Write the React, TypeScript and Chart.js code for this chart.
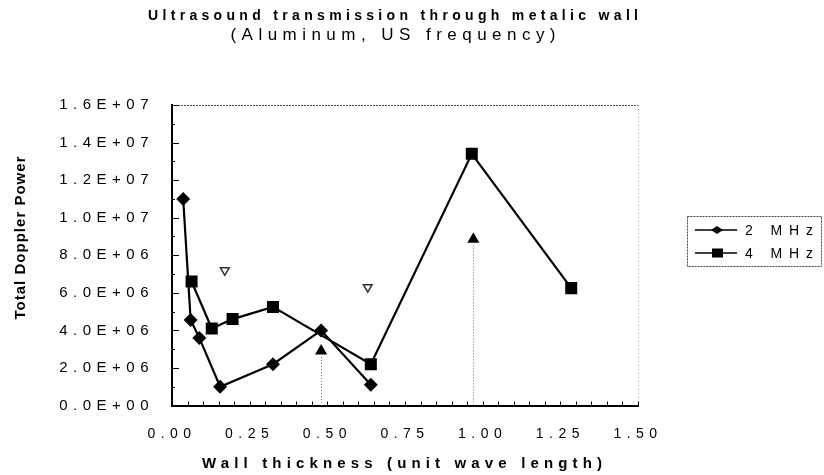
import React, { useEffect, useRef } from 'react';
import { Chart, registerables } from 'chart.js';

Chart.register(...registerables);

const titleLines = ['Ultrasound transmission through metalic wall', '(Aluminum, US frequency)'];
const xAxisTitle = 'Wall thickness (unit wave length)';
const yAxisTitle = 'Total Doppler Power';
const seriesLabels = ['2 MHz', '4 MHz'];

const thickness2MHz = [0.036, 0.06, 0.088, 0.155, 0.325, 0.48, 0.64];
const power2MHz = [1.1e7, 4.55e6, 3.6e6, 1.0e6, 2.2e6, 4.0e6, 1.1e6];
const thickness4MHz = [0.063, 0.128, 0.195, 0.325, 0.64, 0.965, 1.285];
const power4MHz = [6.6e6, 4.1e6, 4.6e6, 5.25e6, 2.2e6, 1.34e7, 6.25e6];
const arrowThickness = [0.48, 0.97];
const arrowPower = [2.9e6, 8.85e6];
const openMarkThickness = [0.17, 0.63];
const openMarkPower = [7.2e6, 6.3e6];

const xMin = 0;
const xMax = 1.5;
const xStep = 0.25;
const xMinorStep = 0.05;
const yMin = 0;
const yMax = 1.6e7;
const yStep = 2e6;
const yMinorStep = 1e6;

const FONT = '"Liberation Sans", Arial, sans-serif';

function fmtExp(v: number): string {
  const [m, e] = v.toExponential(1).split('e');
  const n = parseInt(e, 10);
  return m + 'E' + (n < 0 ? '-' : '+') + String(Math.abs(n)).padStart(2, '0');
}

function drawFit(ctx: CanvasRenderingContext2D, text: string, x: number, baseline: number, width: number, font: string, align: 'center' | 'left' = 'center') {
  ctx.font = font;
  (ctx as any).letterSpacing = '0px';
  const nat = ctx.measureText(text).width;
  const ls = text.length > 1 ? (width - nat) / (text.length - 1) : 0;
  (ctx as any).letterSpacing = ls + 'px';
  ctx.textAlign = 'left';
  ctx.textBaseline = 'alphabetic';
  const left = align === 'center' ? x - width / 2 : x;
  ctx.fillText(text, left, baseline);
  (ctx as any).letterSpacing = '0px';
}

const decorPlugin = {
  id: 'decor',
  beforeDraw(chart: any) {
    (chart.ctx as any).letterSpacing = '5.5px';
  },
  beforeDatasetsDraw(chart: any) {
    const { ctx, chartArea: a, scales } = chart;
    const x = scales.x;
    const y = scales.y;
    ctx.save();
    (ctx as any).letterSpacing = '0px';
    // top border
    ctx.strokeStyle = '#555';
    ctx.lineWidth = 1;
    ctx.setLineDash([2, 1]);
    ctx.beginPath();
    ctx.moveTo(a.left, Math.round(a.top) + 0.5);
    ctx.lineTo(a.right, Math.round(a.top) + 0.5);
    ctx.stroke();
    // right border
    ctx.strokeStyle = '#aaa';
    ctx.setLineDash([1, 3]);
    ctx.beginPath();
    ctx.moveTo(Math.round(a.right) + 0.5, a.top);
    ctx.lineTo(Math.round(a.right) + 0.5, a.bottom);
    ctx.stroke();
    // dotted drop lines
    ctx.strokeStyle = '#777';
    ctx.setLineDash([1, 2]);
    arrowThickness.forEach((t, i) => {
      const px = Math.round(x.getPixelForValue(t)) + 0.5;
      const py = y.getPixelForValue(arrowPower[i]) + 6;
      ctx.beginPath();
      ctx.moveTo(px, py);
      ctx.lineTo(px, a.bottom);
      ctx.stroke();
    });
    // inward tick marks
    ctx.setLineDash([]);
    ctx.strokeStyle = '#000';
    ctx.lineWidth = 1;
    for (let i = 0; xMin + i * xMinorStep <= xMax + 1e-9; i++) {
      const px = Math.round(x.getPixelForValue(xMin + i * xMinorStep)) + 0.5;
      ctx.beginPath();
      ctx.moveTo(px, a.bottom);
      ctx.lineTo(px, a.bottom - 4);
      ctx.stroke();
    }
    for (let i = 0; yMin + i * yMinorStep <= yMax + 1; i++) {
      const v = yMin + i * yMinorStep;
      const py = Math.round(y.getPixelForValue(v)) + 0.5;
      const major = Math.abs(v / yStep - Math.round(v / yStep)) < 1e-6;
      ctx.beginPath();
      ctx.moveTo(a.left, py);
      ctx.lineTo(a.left + (major ? 7 : 3), py);
      ctx.stroke();
    }
    ctx.restore();
  },
  afterDraw(chart: any) {
    const { ctx } = chart;
    ctx.save();
    ctx.fillStyle = '#000';
    drawFit(ctx, titleLines[0], 393, 20, 490, `bold 14px ${FONT}`);
    drawFit(ctx, titleLines[1], 393, 40, 325, `17px ${FONT}`);
    drawFit(ctx, xAxisTitle, 402, 468, 400, `bold 15px ${FONT}`);
    ctx.save();
    ctx.translate(25, 238);
    ctx.rotate(-Math.PI / 2);
    drawFit(ctx, yAxisTitle, 0, 0, 163, `bold 15px ${FONT}`);
    ctx.restore();

    // legend
    ctx.strokeStyle = '#444';
    ctx.lineWidth = 1;
    ctx.setLineDash([2, 1]);
    ctx.strokeRect(687.5, 216.5, 134, 50);
    ctx.setLineDash([]);
    const rows = [230, 253];
    rows.forEach((ry, i) => {
      ctx.strokeStyle = '#000';
      ctx.lineWidth = 1.5;
      ctx.beginPath();
      ctx.moveTo(695, ry);
      ctx.lineTo(737, ry);
      ctx.stroke();
      ctx.fillStyle = '#000';
      ctx.beginPath();
      if (i === 0) {
        ctx.moveTo(711, ry);
        ctx.lineTo(717, ry - 4);
        ctx.lineTo(723, ry);
        ctx.lineTo(717, ry + 4);
        ctx.closePath();
      } else {
        ctx.rect(712, ry - 4.5, 11, 9);
      }
      ctx.fill();
      drawFit(ctx, seriesLabels[i], 745, ry + 5, 68, `14px ${FONT}`, 'left');
    });
    ctx.restore();
  },
};

export default function App() {
  const ref = useRef<HTMLCanvasElement | null>(null);
  useEffect(() => {
    document.body.style.margin = '0';
    const canvas = ref.current!;
    const chart = new Chart(canvas, {
      type: 'scatter',
      data: {
        datasets: [
          {
            label: seriesLabels[0],
            data: thickness2MHz.map((t, i) => ({ x: t, y: power2MHz[i] })),
            showLine: true,
            borderColor: '#000',
            backgroundColor: '#000',
            borderWidth: 2.2,
            pointStyle: 'rectRot',
            pointRadius: 7,
            pointBorderWidth: 0,
          },
          {
            label: seriesLabels[1],
            data: thickness4MHz.map((t, i) => ({ x: t, y: power4MHz[i] })),
            showLine: true,
            borderColor: '#000',
            backgroundColor: '#000',
            borderWidth: 2.2,
            pointStyle: 'rect',
            pointRadius: 8.5,
            pointBorderWidth: 0,
          },
          {
            label: 'arrows',
            data: arrowThickness.map((t, i) => ({ x: t, y: arrowPower[i] })),
            showLine: false,
            backgroundColor: '#000',
            borderColor: '#000',
            pointStyle: 'triangle',
            pointRadius: 7,
            pointBorderWidth: 0,
          },
          {
            label: 'open',
            data: openMarkThickness.map((t, i) => ({ x: t, y: openMarkPower[i] })),
            showLine: false,
            backgroundColor: '#fff',
            borderColor: '#333',
            borderWidth: 1.5,
            pointStyle: 'triangle',
            pointRotation: 180,
            pointRadius: 5,
          },
        ],
      },
      options: {
        responsive: false,
        animation: false,
        devicePixelRatio: 1,
        layout: { padding: { top: 105, right: 186, left: 0, bottom: 0 } },
        plugins: {
          legend: { display: false },
          tooltip: { enabled: false },
          title: { display: false },
        },
        scales: {
          x: {
            type: 'linear',
            min: xMin,
            max: xMax,
            afterFit: (s: any) => {
              s.height = 69.5;
            },
            ticks: {
              stepSize: xStep,
              autoSkip: false,
              maxRotation: 0,
              padding: 20,
              color: '#000',
              font: { family: FONT, size: 14 },
              callback: (v: any) => Number(v).toFixed(2),
            },
            grid: { display: false, drawTicks: false, tickLength: 0 },
            border: { display: true, color: '#000', width: 2 },
          },
          y: {
            type: 'linear',
            min: yMin,
            max: yMax,
            afterFit: (s: any) => {
              s.width = 172;
            },
            ticks: {
              stepSize: yStep,
              padding: 18,
              color: '#000',
              font: { family: FONT, size: 15 },
              callback: (v: any) => fmtExp(Number(v)),
            },
            grid: { display: false, drawTicks: false, tickLength: 0 },
            border: { display: true, color: '#000', width: 2 },
          },
        },
      },
      plugins: [decorPlugin],
    });
    return () => chart.destroy();
  }, []);
  return (
    <div style={{ width: 824, height: 475, background: '#fff' }}>
      <canvas ref={ref} width={824} height={475} style={{ display: 'block', width: 824, height: 475 }} />
    </div>
  );
}
